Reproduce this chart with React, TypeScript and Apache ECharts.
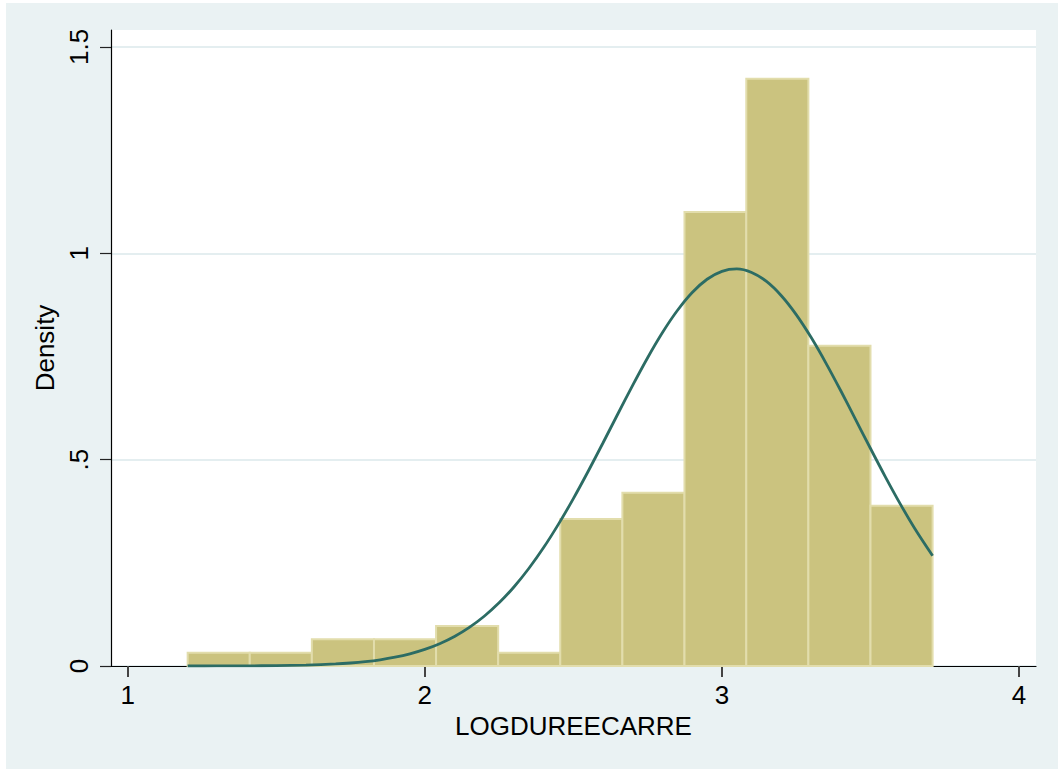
import React, { useEffect, useRef } from "react";
import * as echarts from "echarts";

// Histogram bin edges (LOGDUREECARRE) and densities per bin
const binEdges = [1.202, 1.411, 1.620, 1.829, 2.038, 2.247, 2.456, 2.665, 2.874, 3.082, 3.291, 3.500, 3.709];
const densities = [0.032, 0.032, 0.065, 0.065, 0.097, 0.032, 0.356, 0.420, 1.100, 1.423, 0.776, 0.388];

// Normal density overlay
const curveX = [
  1.202, 1.3, 1.4, 1.5, 1.6, 1.7, 1.75, 1.8, 1.85, 1.9, 1.95, 2.0, 2.05, 2.1, 2.15, 2.2, 2.25,
  2.3, 2.35, 2.4, 2.45, 2.5, 2.55, 2.6, 2.65, 2.7, 2.75, 2.8, 2.85, 2.9, 2.95, 3.0, 3.05, 3.1,
  3.15, 3.2, 3.25, 3.3, 3.35, 3.4, 3.45, 3.5, 3.55, 3.6, 3.65, 3.709,
];
const curveY = [
  0.0000, 0.0001, 0.0004, 0.0009, 0.0022, 0.0050, 0.0073, 0.0106, 0.0151, 0.0213, 0.0295, 0.0402, 0.0541, 0.0717, 0.0937, 0.1206, 0.1531,
  0.1915, 0.2362, 0.2869, 0.3437, 0.4056, 0.4719, 0.5409, 0.6112, 0.6806, 0.7470, 0.8080, 0.8613, 0.9050, 0.9371, 0.9563, 0.9620, 0.9535,
  0.9317, 0.8971, 0.8514, 0.7963, 0.7340, 0.6669, 0.5971, 0.5270, 0.4584, 0.3929, 0.3319, 0.2670,
];

const xTickValues = [1, 2, 3, 4];
const xTickLabels = ["1", "2", "3", "4"];
const yTickValues = [0, 0.5, 1, 1.5];
const yTickLabels = ["0", ".5", "1", "1.5"];

const FONT = "'Liberation Sans', Arial, Helvetica, sans-serif";

export default function App() {
  const ref = useRef<HTMLDivElement>(null);

  useEffect(() => {
    if (!ref.current) return;
    const chart = echarts.init(ref.current, undefined, { renderer: "svg" });
    const barData = densities.map((d, i) => [binEdges[i], binEdges[i + 1], d]);
    const lineData = curveX.map((x, i) => [x, curveY[i]]);

    chart.setOption({
      animation: false,
      backgroundColor: "transparent",
      grid: {
        show: true,
        left: 111,
        top: 30,
        right: 22,
        bottom: 103,
        backgroundColor: "#ffffff",
        borderWidth: 0,
      },
      xAxis: {
        type: "value",
        min: 0.944,
        max: 4.057,
        name: "LOGDUREECARRE",
        nameLocation: "middle",
        nameGap: 43,
        nameTextStyle: { fontFamily: FONT, fontSize: 26, color: "#000" },
        axisLine: { show: true, onZero: false, lineStyle: { color: "#000", width: 1.2 } },
        axisTick: {
          show: true,
          length: 11,
          customValues: xTickValues,
          lineStyle: { color: "#444", width: 2 },
        },
        axisLabel: {
          customValues: xTickValues,
          margin: 16,
          fontFamily: FONT,
          fontSize: 26,
          color: "#000",
          formatter: (v: number) => {
            const i = xTickValues.indexOf(v);
            return i >= 0 ? xTickLabels[i] : "";
          },
        },
        splitLine: { show: false },
      },
      yAxis: {
        type: "value",
        min: 0,
        max: 1.541,
        name: "Density",
        nameLocation: "middle",
        nameGap: 46,
        nameTextStyle: { fontFamily: FONT, fontSize: 26, color: "#000" },
        axisLine: { show: true, onZero: false, lineStyle: { color: "#000", width: 1.2 } },
        axisTick: {
          show: true,
          length: 11,
          customValues: yTickValues,
          lineStyle: { color: "#222", width: 1.2 },
        },
        axisLabel: {
          customValues: yTickValues,
          rotate: 90,
          margin: 19,
          fontFamily: FONT,
          fontSize: 26,
          color: "#000",
          formatter: (v: number) => {
            const i = yTickValues.indexOf(v);
            return i >= 0 ? yTickLabels[i] : "";
          },
        },
        splitLine: { show: true, lineStyle: { color: "#E4EEF0", width: 2 } },
      },
      series: [
        {
          type: "custom",
          data: barData,
          encode: { x: [0, 1], y: 2 },
          z: 2,
          renderItem: (params: any, api: any) => {
            const x0 = api.value(0);
            const x1 = api.value(1);
            const h = api.value(2);
            const p0 = api.coord([x0, h]);
            const p1 = api.coord([x1, 0]);
            return {
              type: "rect",
              shape: { x: p0[0], y: p0[1], width: p1[0] - p0[0], height: p1[1] - p0[1] },
              style: { fill: "#CBC37F", stroke: "#E2DDAC", lineWidth: 2 },
            };
          },
        },
        {
          type: "line",
          data: lineData,
          showSymbol: false,
          smooth: 0.3,
          z: 5,
          lineStyle: { color: "#2C6C64", width: 2.8 },
        },
      ],
    });

    return () => chart.dispose();
  }, []);

  return (
    <div style={{ position: "fixed", left: 0, top: 0, width: 1058, height: 769, background: "#ffffff" }}>
      <div style={{ position: "absolute", left: 6, top: 3, width: 1052, height: 766, background: "#EAF2F3" }} />
      <div ref={ref} style={{ position: "absolute", left: 0, top: 0, width: 1058, height: 769 }} />
    </div>
  );
}
